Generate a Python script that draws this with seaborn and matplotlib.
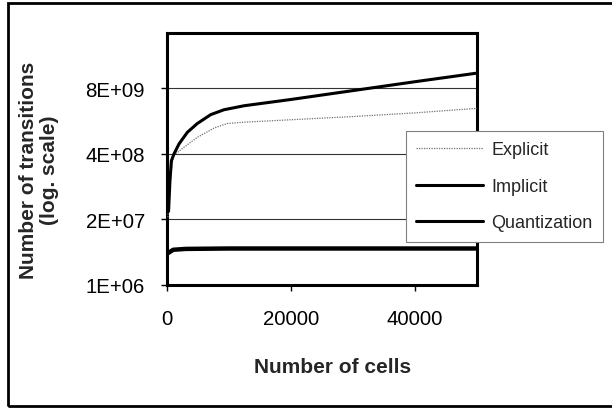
import matplotlib
matplotlib.use("Agg")
import matplotlib.pyplot as plt
import seaborn as sns
import pandas as pd
from matplotlib.patches import Rectangle

# ---- data ----
explicit_cells = [150, 320, 1020, 2740, 4890, 7580, 9730, 12420, 20000, 30000, 40000, 50000]
explicit_vals = [2.2e7, 6.4e7, 3.7e8, 5.4e8, 8.5e8, 1.3e9, 1.6e9, 1.7e9, 1.9e9, 2.2e9, 2.6e9, 3.2e9]

implicit_cells = [250, 480, 700, 1130, 1940, 3280, 4890, 7050, 9190, 12420, 20000, 30000, 40000, 50000]
implicit_vals = [2.9e7, 1.2e8, 2.9e8, 4.0e8, 6.3e8, 1.07e9, 1.6e9, 2.4e9, 3.0e9, 3.6e9, 4.8e9, 7.2e9, 1.08e10, 1.6e10]

quant_cells = [50, 1000, 3000, 10000, 50000]
quant_vals = [4.2e6, 5.0e6, 5.2e6, 5.3e6, 5.3e6]

series_names = ["Explicit", "Implicit", "Quantization"]
y_ticks = [1e6, 2e7, 4e8, 8e9]
y_tick_labels = ["1E+06", "2E+07", "4E+08", "8E+09"]
x_ticks = [0, 20000, 40000]
x_tick_labels = ["0", "20000", "40000"]

sns.set_theme(style="white")
plt.rcParams["font.family"] = ["Liberation Sans", "DejaVu Sans"]

W, H = 612, 410
fig = plt.figure(figsize=(W / 100, H / 100), dpi=100)
ax = fig.add_axes([167 / W, 1 - 286 / H, (477 - 167) / W, (286 - 34) / H])

df_e = pd.DataFrame({"cells": explicit_cells, "val": explicit_vals})
df_i = pd.DataFrame({"cells": implicit_cells, "val": implicit_vals})
df_q = pd.DataFrame({"cells": quant_cells, "val": quant_vals})

sns.lineplot(data=df_e, x="cells", y="val", ax=ax, color="#707070", lw=0.9,
             linestyle=(0, (1, 1)), label=series_names[0], estimator=None, sort=False, zorder=3)
sns.lineplot(data=df_i, x="cells", y="val", ax=ax, color="black", lw=2.2,
             label=series_names[1], estimator=None, sort=False, zorder=4)
sns.lineplot(data=df_q, x="cells", y="val", ax=ax, color="black", lw=3.2,
             label=series_names[2], estimator=None, sort=False, zorder=4)

ax.set_yscale("log")
ax.set_ylim(1e6, 1.0e11)
ax.set_xlim(0, 50000)
ax.set_yticks(y_ticks)
ax.set_yticklabels(y_tick_labels)
ax.minorticks_off()
ax.set_xticks(x_ticks)
ax.set_xticklabels(x_tick_labels)
ax.tick_params(axis="both", which="major", direction="out", length=4, width=1,
               color="black", labelsize=14.7, labelcolor="black", left=True, bottom=True)
ax.tick_params(axis="x", pad=13)
ax.tick_params(axis="y", pad=12)
ax.set_xlabel("")
ax.set_ylabel("")
ax.grid(False)
for yv in y_ticks[1:]:
    ax.axhline(yv, color="#333333", lw=0.8, zorder=1)
for s in ax.spines.values():
    s.set_visible(True)
    s.set_color("black")
    s.set_linewidth(2.2)
ax.set_facecolor("white")

leg = ax.legend(loc="upper left", bbox_to_anchor=(406 / W, 1 - 132 / H),
                bbox_transform=fig.transFigure, borderaxespad=0, frameon=True,
                fancybox=False, shadow=False, fontsize=13, handlelength=3.7,
                handletextpad=0.45, labelspacing=1.08, borderpad=0.58)
frame = leg.get_frame()
frame.set_edgecolor("#808080")
frame.set_linewidth(0.8)
frame.set_facecolor("white")
frame.set_alpha(1)
leg.set_zorder(10)
lh = leg.get_lines()
lh[0].set_linewidth(0.9)
lh[1].set_linewidth(2.2)
lh[2].set_linewidth(2.2)

fig.text(333 / W, 1 - 368 / H, "Number of cells", ha="center", va="center",
         fontsize=15, fontweight="bold")
fig.text(39 / W, 1 - 170 / H, "Number of transitions\n(log. scale)", ha="center",
         va="center", rotation=90, fontsize=15, fontweight="bold", linespacing=1.15,
         multialignment="center")

fig.patches.append(Rectangle((8 / W, 1 - 407 / H), (W + 10 - 8) / W, (407 - 4) / H,
                             transform=fig.transFigure, fill=False, edgecolor="black",
                             lw=2, clip_on=False))

fig.savefig("out.png", dpi=100, facecolor="white")
